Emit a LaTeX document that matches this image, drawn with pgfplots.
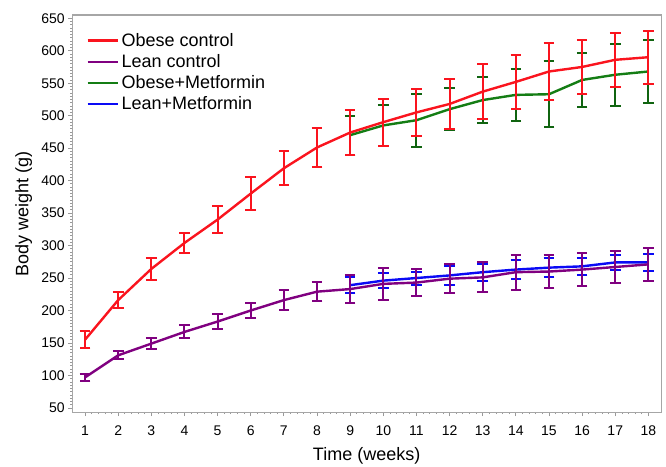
\documentclass[border=0pt]{standalone}
\usepackage{pgfplots}
\pgfplotsset{compat=1.18}
\usepackage{fontspec}
\setmainfont{Liberation Sans}
\definecolor{cred}{RGB}{250,20,30}
\definecolor{cpurple}{RGB}{128,0,128}
\definecolor{cgreen}{RGB}{20,125,20}
\definecolor{cblue}{RGB}{10,10,245}
\begin{document}
\begin{tikzpicture}
\begin{axis}[
  scale only axis,
  width=441.75pt, height=297.75pt,
  xmin=0.608, xmax=18.39, ymin=43.4, ymax=655,
  xtick={1,2,...,18},
  ytick={50,100,...,650},
  minor x tick num=4,
  minor y tick num=9,
  tick align=outside,
  major tick length=3pt,
  minor tick length=1.5pt,
  tick style={gray!80, line width=0.6pt},
  axis line style={gray!70, line width=0.8pt},
  xtick pos=bottom, ytick pos=left,
  /pgf/number format/assume math mode=true,
  ticklabel style={font=\fontsize{10.5}{12}\selectfont, text=black},
  xticklabel style={yshift=-3.5pt},
  yticklabel style={xshift=1pt},
  label style={font=\fontsize{13.5}{16}\selectfont},
  xlabel={Time (weeks)},
  ylabel={Body weight (g)},
  xlabel style={at={(axis description cs:0.5,-0.11)}, anchor=center},
  ylabel style={at={(axis description cs:-0.082,0.5)}, anchor=center},
  legend style={draw=none, fill=none, at={(axis description cs:0.024,0.962)}, anchor=north west,
    font=\fontsize{13.5}{15}\selectfont, row sep=0.6pt, inner sep=0pt},
  legend cell align=left,
  legend image code/.code={\draw[#1] (0pt,0pt) -- (22.5pt,0pt);},
  error bars/y dir=both, error bars/y explicit,
]
\addlegendimage{cred, line width=1.8pt}
\addlegendimage{cpurple, line width=1.8pt}
\addlegendimage{cgreen, line width=1.8pt}
\addlegendimage{cblue, line width=1.8pt}
% Obese+Metformin
\addplot[cgreen, line width=1.8pt, forget plot,
  error bars/error bar style={line width=1.5pt, cgreen!80!black},
  error bars/error mark options={rotate=90, line width=1.5pt, mark size=4pt, cgreen!80!black}]
  table[x=x, y=y, y error=e] {
x y e
9 470 30
10 485 32
11 493 41
12 510 32
13 524 36
14 532 40
15 533 51
16 555 42
17 563 48
18 568 49
};
% Lean+Metformin
\addplot[cblue, line width=1.8pt, forget plot,
  error bars/error bar style={line width=1.5pt, cblue},
  error bars/error mark options={rotate=90, line width=1.5pt, mark size=4pt, cblue}]
  table[x=x, y=y, y error=e] {
x y e
9 239 12
10 246 12
11 250 10
12 254 14
13 259 13
14 263 14
15 266 15
16 268 13
17 274 11
18 274 13
};
% Obese control
\addplot[cred, line width=1.8pt, forget plot,
  error bars/error bar style={line width=1.5pt, cred},
  error bars/error mark options={rotate=90, line width=1.5pt, mark size=4pt, cred}]
  table[x=x, y=y, y error=e] {
x y e
1 155 13
2 216 12
3 264 17
4 304 16
5 340 21
6 380 25
7 419 26
8 451 30
9 474 35
10 490 36
11 505 36
12 518 39
13 537 42
14 552 41
15 568 44
16 575 42
17 586 42
18 590 41
};
% Lean control
\addplot[cpurple, line width=1.8pt, forget plot,
  error bars/error bar style={line width=1.5pt, cpurple},
  error bars/error mark options={rotate=90, line width=1.5pt, mark size=4pt, cpurple}]
  table[x=x, y=y, y error=e] {
x y e
1 97 5
2 131 6
3 149 9
4 167 10
5 183 12
6 200 12
7 216 15
8 229 15
9 233 21
10 241 25
11 243 21
12 249 22
13 251 23
14 259 27
15 260 25
16 263 25
17 267 25
18 271 25
};
\legend{Obese control, Lean control, Obese+Metformin, Lean+Metformin}
\end{axis}
\pgfresetboundingbox
\path[use as bounding box] ([xshift=-54pt,yshift=-40.5pt]current axis.south west) rectangle ([xshift=3.5pt,yshift=11.25pt]current axis.north east);
\end{tikzpicture}
\end{document}
